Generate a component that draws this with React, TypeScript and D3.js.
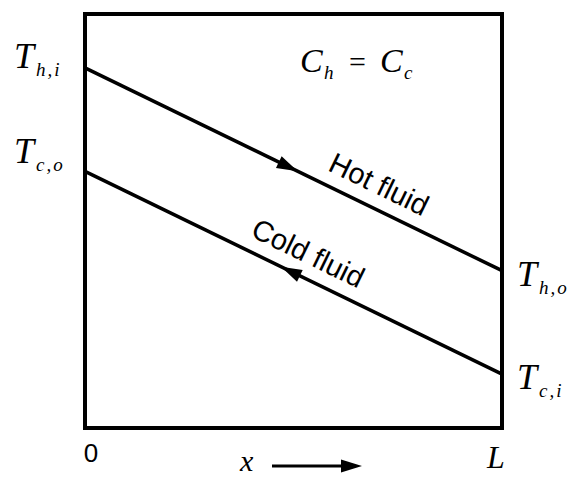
import * as d3 from 'd3';

// position along the exchanger, 0 .. L
const positions = [0, 1];
// temperatures (arbitrary units)
const hotTemps = [87, 38];
const coldTemps = [62, 13];

const leftSubs = ['h,i', 'c,o'];
const rightSubs = ['h,o', 'c,i'];
const xTickLabels = ['0', 'L'];

const W = 576;
const H = 477;

const x = d3.scaleLinear().domain([0, 1]).range([85, 502]);
const y = d3.scaleLinear().domain([0, 100]).range([428, 14]);

const serif = '"Liberation Serif", "DejaVu Serif", serif';
const sans = '"Liberation Sans", Arial, sans-serif';

function TLabel({ tx, ty, sub, subDy = 8 }: { tx: number; ty: number; sub: string; subDy?: number }) {
  return (
    <g transform={`translate(${tx},${ty})`}>
      <text fontFamily={serif} fontStyle="italic" fontSize={36}>T</text>
      <text x={22} y={subDy} fontFamily={serif} fontStyle="italic" fontSize={19} letterSpacing={2}>
        {sub}
      </text>
    </g>
  );
}

function Arrowhead({ px, py, angle }: { px: number; py: number; angle: number }) {
  return (
    <path
      d="M0,0 L-21,-6.5 L-21,6.5 Z"
      transform={`translate(${px},${py}) rotate(${angle})`}
      fill="#000"
    />
  );
}

function FlowLine({ temps, arrowAt, reverse, label, labelAt }: {
  temps: number[]; arrowAt: number; reverse: boolean; label: string; labelAt: number;
}) {
  const line = d3.line<number>().x((_, i) => x(positions[i])).y(d => y(d));
  const slope = (y(temps[1]) - y(temps[0])) / (x(positions[1]) - x(positions[0]));
  const angle = (Math.atan(slope) * 180) / Math.PI;
  const interp = d3.scaleLinear().domain([0, 1]).range(temps);
  const ax = x(arrowAt);
  const ay = y(interp(arrowAt));
  const lx = x(labelAt);
  const ly = y(interp(labelAt));
  return (
    <g>
      <path d={line(temps) || ''} fill="none" stroke="#000" strokeWidth={3.5} />
      <Arrowhead px={ax} py={ay} angle={reverse ? angle + 180 : angle} />
      <g transform={`translate(${lx},${ly}) rotate(${angle})`}>
        <text y={-14} textAnchor="middle" fontFamily={sans} fontSize={29}>{label}</text>
      </g>
    </g>
  );
}

export default function App() {
  const [x0, x1] = x.range();
  const [y0, y1] = y.range();
  return (
    <svg width={W} height={H} style={{ position: 'fixed', left: 0, top: 0, background: '#fff' }}>
      <rect x={x0} y={y1} width={x1 - x0} height={y0 - y1} fill="none" stroke="#000" strokeWidth={4} />

      <FlowLine temps={hotTemps} arrowAt={0.51} reverse={false} label="Hot fluid" labelAt={0.68} />
      <FlowLine temps={coldTemps} arrowAt={0.47} reverse={true} label="Cold fluid" labelAt={0.51} />

      <TLabel tx={14} ty={y(hotTemps[0])} sub={leftSubs[0]} />
      <TLabel tx={14} ty={y(coldTemps[0]) - 8} sub={leftSubs[1]} />
      <TLabel tx={517} ty={y(hotTemps[1]) + 15} sub={rightSubs[0]} />
      <TLabel tx={517} ty={y(coldTemps[1]) + 15} sub={rightSubs[1]} />

      <g transform="translate(300,72)" fontFamily={serif} fontStyle="italic">
        <text fontSize={34}>C</text>
        <text x={24} y={7} fontSize={19}>h</text>
        <text x={49} fontSize={30} fontStyle="normal">=</text>
        <text x={80} fontSize={34}>C</text>
        <text x={104} y={7} fontSize={19}>c</text>
      </g>

      <text x={x(0) + 6} y={462} textAnchor="middle" fontFamily={sans} fontSize={26}>{xTickLabels[0]}</text>
      <text x={x(1) - 6} y={468} textAnchor="middle" fontFamily={serif} fontStyle="italic" fontSize={32}>{xTickLabels[1]}</text>

      <text x={240} y={471} fontFamily={serif} fontStyle="italic" fontSize={30}>x</text>
      <line x1={272} x2={345} y1={466} y2={466} stroke="#000" strokeWidth={3} />
      <Arrowhead px={362} py={466} angle={0} />
    </svg>
  );
}
